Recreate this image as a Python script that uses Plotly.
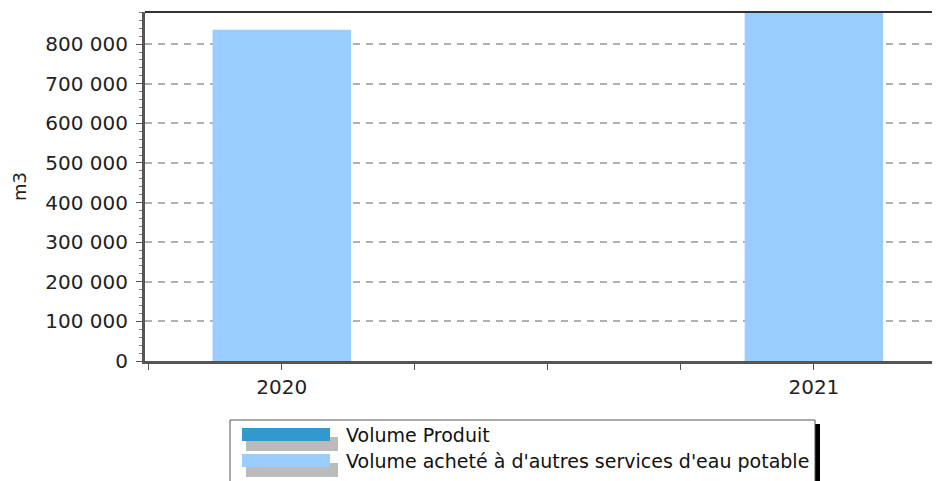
import plotly.graph_objects as go

# ── Data ─────────────────────────────────────────────────────────────────────

YEARS = [2020, 2021]
YEAR_LABELS = ["2020", "2021"]
VOLUME_PRODUIT = [0, 0]
VOLUME_ACHETE = [836000, 884000]
SERIES_NAMES = ["Volume Produit", "Volume acheté à d'autres services d'eau potable"]
SERIES_COLORS = ["#3399cc", "#99ccff"]
Y_TICKS = [0, 100000, 200000, 300000, 400000, 500000, 600000, 700000, 800000]
Y_TICK_LABELS = ["0", "100 000", "200 000", "300 000", "400 000",
                 "500 000", "600 000", "700 000", "800 000"]

# ── Layout constants (screen pixels; the page body adds an 8px offset) ───────

OFFSET = 8
W, H = 940 - OFFSET, 481 - OFFSET
PLOT_L, PLOT_T, PLOT_B, PLOT_R = 145, 12, 361, 940
FONT = "DejaVu Sans"


def px_x(px):
    return (px - PLOT_L) / (PLOT_R - PLOT_L)


def px_y(py):
    return (PLOT_B - py) / (PLOT_B - PLOT_T)


fig = go.Figure()
for name, vals, color in zip(SERIES_NAMES, [VOLUME_PRODUIT, VOLUME_ACHETE], SERIES_COLORS):
    fig.add_trace(
        go.Bar(
            x=YEARS,
            y=vals,
            name=name,
            marker=dict(color=color, line=dict(width=0)),
            width=0.26,
            showlegend=False,
        )
    )

shapes = [
    # top border of the plot frame
    dict(type="line", xref="paper", yref="paper", x0=0, x1=1, y0=1, y1=1,
         line=dict(color="#333333", width=2)),
    # legend shadow and box
    dict(type="rect", xref="paper", yref="paper",
         x0=px_x(814), x1=px_x(820), y0=px_y(424), y1=px_y(484),
         fillcolor="#000000", line=dict(width=0)),
    dict(type="rect", xref="paper", yref="paper",
         x0=px_x(230), x1=px_x(815), y0=px_y(420), y1=px_y(484),
         fillcolor="white", line=dict(color="#555555", width=1)),
]
annotations = []
for i, (name, color) in enumerate(zip(SERIES_NAMES, SERIES_COLORS)):
    top = 428 + 26 * i
    shapes.append(dict(type="rect", xref="paper", yref="paper",
                       x0=px_x(246), x1=px_x(338), y0=px_y(top + 9), y1=px_y(top + 23),
                       fillcolor="#bbbbbb", line=dict(width=0)))
    shapes.append(dict(type="rect", xref="paper", yref="paper",
                       x0=px_x(242), x1=px_x(330), y0=px_y(top), y1=px_y(top + 13),
                       fillcolor=color, line=dict(width=0)))
    annotations.append(dict(text=name, xref="paper", yref="paper",
                            x=px_x(344), y=px_y(top + 7), xanchor="left", yanchor="middle",
                            showarrow=False, font=dict(family=FONT, size=19, color="#111")))

fig.update_layout(
    width=W,
    height=H,
    margin=dict(l=PLOT_L - OFFSET, r=0, t=PLOT_T - OFFSET, b=481 - PLOT_B, pad=0),
    paper_bgcolor="white",
    plot_bgcolor="white",
    font=dict(family=FONT, size=18, color="#222"),
    showlegend=False,
    barmode="overlay",
    shapes=shapes,
    annotations=annotations,
    xaxis=dict(
        range=[2019.743, 2021.237],
        tickvals=YEARS,
        ticktext=YEAR_LABELS,
        ticks="outside",
        ticklen=6,
        tickcolor="#555",
        tickwidth=1,
        minor=dict(tick0=2019.75, dtick=0.25, ticks="outside", ticklen=6,
                   tickcolor="#555", tickwidth=1, showgrid=False),
        showgrid=False,
        showline=True,
        linecolor="#555555",
        linewidth=3,
        zeroline=False,
        tickfont=dict(size=20),
    ),
    yaxis=dict(
        title=dict(text="m3", standoff=14, font=dict(size=18, color="#222")),
        range=[0, 881000],
        tickvals=Y_TICKS,
        ticktext=Y_TICK_LABELS,
        ticks="outside",
        ticklen=6,
        tickcolor="#555",
        tickwidth=1,
        minor=dict(dtick=20000, ticks="outside", ticklen=3, tickcolor="#777", showgrid=False),
        showgrid=True,
        gridcolor="#b0b0b0",
        gridwidth=1.5,
        griddash="7px,6px",
        showline=True,
        linecolor="#555555",
        linewidth=3,
        zeroline=False,
        tickfont=dict(size=20),
        ticklabelstandoff=4,
    ),
)

fig.write_html("out.html")
